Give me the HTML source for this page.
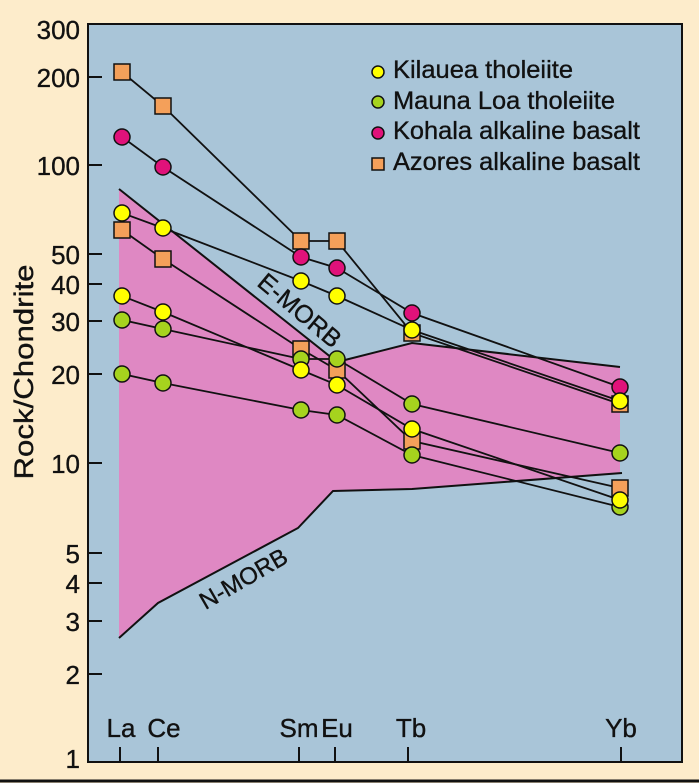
<!DOCTYPE html>
<html><head><meta charset="utf-8"><style>
html,body{margin:0;padding:0;background:#fdeccb;}
svg{display:block;}
text{font-family:"Liberation Sans",Arial,sans-serif;fill:#111;stroke:#111;stroke-width:0.35;}
</style></head><body>
<svg width="699" height="783" viewBox="0 0 699 783" xmlns="http://www.w3.org/2000/svg">
<rect x="0" y="0" width="699" height="783" fill="#fdeccb"/>
<rect x="88" y="24" width="594" height="738" fill="#a9c5d8" stroke="#111" stroke-width="2"/>
<line x1="0" y1="781" x2="699" y2="781" stroke="#111" stroke-width="3"/>
<polygon points="119,189 337,362 412,343 620,367 620,473 412,489 333,491 298,528 158,603 119,638" fill="#df88c3"/>
<polyline points="119,189 337,362 412,343 620,367" fill="none" stroke="#111" stroke-width="2"/>
<polyline points="119,638 158,603 298,528 333,491 412,489 622,473" fill="none" stroke="#111" stroke-width="2"/>
<text x="300" y="319" font-size="25" text-anchor="middle" transform="rotate(40 300 310)">E-MORB</text>
<text x="243" y="587" font-size="24" text-anchor="middle" transform="rotate(-30 243 578)">N-MORB</text>
<g stroke="#111" stroke-width="2">
<line x1="88" y1="77" x2="102" y2="77"/><line x1="88" y1="165" x2="102" y2="165"/>
<line x1="88" y1="254" x2="102" y2="254"/><line x1="88" y1="284" x2="102" y2="284"/>
<line x1="88" y1="321" x2="102" y2="321"/><line x1="88" y1="374" x2="102" y2="374"/>
<line x1="88" y1="463" x2="102" y2="463"/><line x1="88" y1="553" x2="102" y2="553"/>
<line x1="88" y1="583" x2="102" y2="583"/><line x1="88" y1="621" x2="102" y2="621"/>
<line x1="88" y1="674" x2="102" y2="674"/>
<line x1="120" y1="747" x2="120" y2="762"/><line x1="158" y1="747" x2="158" y2="762"/>
<line x1="299" y1="747" x2="299" y2="762"/><line x1="335" y1="747" x2="335" y2="762"/>
<line x1="408" y1="747" x2="408" y2="762"/><line x1="621" y1="747" x2="621" y2="762"/>
</g>
<g font-size="26" text-anchor="end">
<text x="80" y="39">300</text><text x="80" y="87">200</text><text x="80" y="175">100</text>
<text x="80" y="264">50</text><text x="80" y="294">40</text><text x="80" y="331">30</text>
<text x="80" y="384">20</text><text x="80" y="473">10</text><text x="80" y="563">5</text>
<text x="80" y="593">4</text><text x="80" y="631">3</text><text x="80" y="684">2</text>
<text x="80" y="768">1</text>
</g>
<g font-size="26" text-anchor="middle">
<text x="121" y="737">La</text><text x="164" y="737">Ce</text><text x="299" y="737">Sm</text>
<text x="337" y="737">Eu</text><text x="411" y="737">Tb</text><text x="621" y="737">Yb</text>
</g>
<text x="0" y="0" font-size="27" text-anchor="middle" textLength="215" lengthAdjust="spacingAndGlyphs" transform="translate(33 372) rotate(-90)">Rock/Chondrite</text>
<g fill="none" stroke="#111" stroke-width="1.8">
<polyline points="122,72 163,106 301,241 337,241 412,333 620,404"/>
<polyline points="122,230 163,259 301,349 337,370 412,441 620,488"/>
<polyline points="122,137 163,167 301,257 337,268 412,313 620,387"/>
<polyline points="122,213 163,228 301,281 337,296 412,330 620,401"/>
<polyline points="122,296 163,312 301,370 337,385 412,429 620,500"/>
<polyline points="122,320 163,329 301,359 337,359 412,404 620,453"/>
<polyline points="122,374 163,383 301,410 337,415 412,455 620,507"/>
</g>
<g stroke="#111" stroke-width="1.5">
<g fill="#f4a05a">
<rect x="114" y="64" width="16" height="16"/><rect x="155" y="98" width="16" height="16"/>
<rect x="293" y="233" width="16" height="16"/><rect x="329" y="233" width="16" height="16"/>
<rect x="404" y="325" width="16" height="16"/><rect x="612" y="396" width="16" height="16"/>
<rect x="114" y="222" width="16" height="16"/><rect x="155" y="251" width="16" height="16"/>
<rect x="293" y="341" width="16" height="16"/><rect x="329" y="362" width="16" height="16"/>
<rect x="404" y="433" width="16" height="16"/><rect x="612" y="480" width="16" height="16"/>
</g>
<g fill="#e0127a">
<circle cx="122" cy="137" r="8"/><circle cx="163" cy="167" r="8"/><circle cx="301" cy="257" r="8"/>
<circle cx="337" cy="268" r="8"/><circle cx="412" cy="313" r="8"/><circle cx="620" cy="387" r="8"/>
</g>
<g fill="#a6d31e">
<circle cx="122" cy="320" r="8"/><circle cx="163" cy="329" r="8"/><circle cx="301" cy="359" r="8"/>
<circle cx="337" cy="359" r="8"/><circle cx="412" cy="404" r="8"/><circle cx="620" cy="453" r="8"/>
<circle cx="122" cy="374" r="8"/><circle cx="163" cy="383" r="8"/><circle cx="301" cy="410" r="8"/>
<circle cx="337" cy="415" r="8"/><circle cx="412" cy="455" r="8"/><circle cx="620" cy="507" r="8"/>
</g>
<g fill="#ffff00">
<circle cx="122" cy="213" r="8"/><circle cx="163" cy="228" r="8"/><circle cx="301" cy="281" r="8"/>
<circle cx="337" cy="296" r="8"/><circle cx="412" cy="330" r="8"/><circle cx="620" cy="401" r="8"/>
<circle cx="122" cy="296" r="8"/><circle cx="163" cy="312" r="8"/><circle cx="301" cy="370" r="8"/>
<circle cx="337" cy="385" r="8"/><circle cx="412" cy="429" r="8"/><circle cx="620" cy="500" r="8"/>
</g>
<circle cx="378" cy="72" r="6" fill="#ffff00"/>
<circle cx="378" cy="102" r="6" fill="#a6d31e"/>
<circle cx="378" cy="133" r="6" fill="#e0127a"/>
<rect x="372" y="158" width="12" height="12" fill="#f4a05a"/>
</g>
<g font-size="25">
<text x="393" y="78" textLength="180" lengthAdjust="spacingAndGlyphs">Kilauea tholeiite</text>
<text x="393" y="109" textLength="222" lengthAdjust="spacingAndGlyphs">Mauna Loa tholeiite</text>
<text x="393" y="139" textLength="247" lengthAdjust="spacingAndGlyphs">Kohala alkaline basalt</text>
<text x="393" y="170" textLength="247" lengthAdjust="spacingAndGlyphs">Azores alkaline basalt</text>
</g>
</svg>
</body></html>
